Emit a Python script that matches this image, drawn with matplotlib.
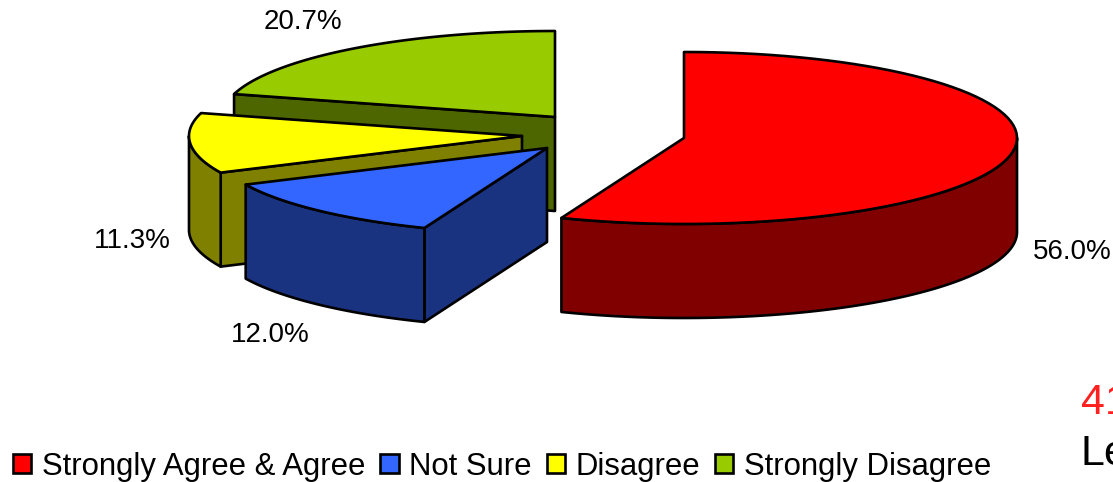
import numpy as np
import matplotlib
matplotlib.use("Agg")
import matplotlib.pyplot as plt
from matplotlib.patches import Polygon, Rectangle

categories = ["Strongly Agree & Agree", "Not Sure", "Disagree", "Strongly Disagree"]
values = [56.0, 12.0, 11.3, 20.7]
top_colors = ["#ff0000", "#3366ff", "#ffff00", "#99cc00"]
side_colors = ["#800000", "#1a3380", "#808000", "#4d6600"]
centers = [(684, 138), (547, 148), (522, 136), (555, 117)]
label_pos = [(1072, 252), (270, 335), (132, 241), (303, 22)]

RX, RY, DEPTH = 333, 86, 94
LW = 1.9

plt.rcParams["font.family"] = ["Liberation Sans", "DejaVu Sans"]
fig = plt.figure(figsize=(11.13, 4.82), dpi=100)
ax = fig.add_axes([0, 0, 1, 1])
ax.set_xlim(0, 1113)
ax.set_ylim(482, 0)
ax.axis("off")


def rim(c, a0, a1, n=80):
    t = np.radians(np.linspace(a0, a1, n))
    return np.column_stack([c[0] + RX * np.sin(t), c[1] - RY * np.cos(t)])


def add(pts, color, z):
    ax.add_patch(Polygon(pts, closed=True, facecolor=color, edgecolor="black",
                         linewidth=LW, joinstyle="round", zorder=z))


edges = np.concatenate([[0], np.cumsum(values)]) * 3.6
for i in [3, 2, 1, 0]:
    c = centers[i]
    a0, a1 = edges[i], edges[i + 1]
    z = 10 - i * 2 if i else 20
    down = np.array([0, DEPTH])
    # radial face on the starting edge, when it faces the viewer
    if 90 < a0 < 360 and i > 0:
        p = rim(c, a0, a0, 1)[0]
        add([c, p, p + down, np.array(c) + down], side_colors[i], z)
    # outer wall: the part of the rim on the front half of the ellipse
    s0, s1 = max(a0, 90), min(a1, 270)
    if s1 > s0:
        r = rim(c, s0, s1)
        add(np.vstack([r, (r + down)[::-1]]), side_colors[i], z)
    # top face
    add(np.vstack([[c], rim(c, a0, a1)]), top_colors[i], z + 1)

for v, (x, y) in zip(values, label_pos):
    ax.text(x, y, f"{v:.1f}%", fontsize=20, ha="center", va="center", color="black")

handles = [Rectangle((0, 0), 1, 1, facecolor=t, edgecolor="black", linewidth=1.9) for t in top_colors]
ax.legend(handles, categories, loc="lower left", bbox_to_anchor=(7 / 1113, -6 / 482), ncol=4,
          frameon=False, fontsize=22.4, handlelength=0.58, handleheight=0.58, handletextpad=0.33,
          columnspacing=0.5, borderpad=0.2, borderaxespad=0)

ax.text(1081, 414, "41", fontsize=31, color="#ff2020", ha="left", va="baseline", clip_on=False)
ax.text(1080, 465, "Le", fontsize=31, color="black", ha="left", va="baseline", clip_on=False)

fig.savefig("out.png", dpi=100)
